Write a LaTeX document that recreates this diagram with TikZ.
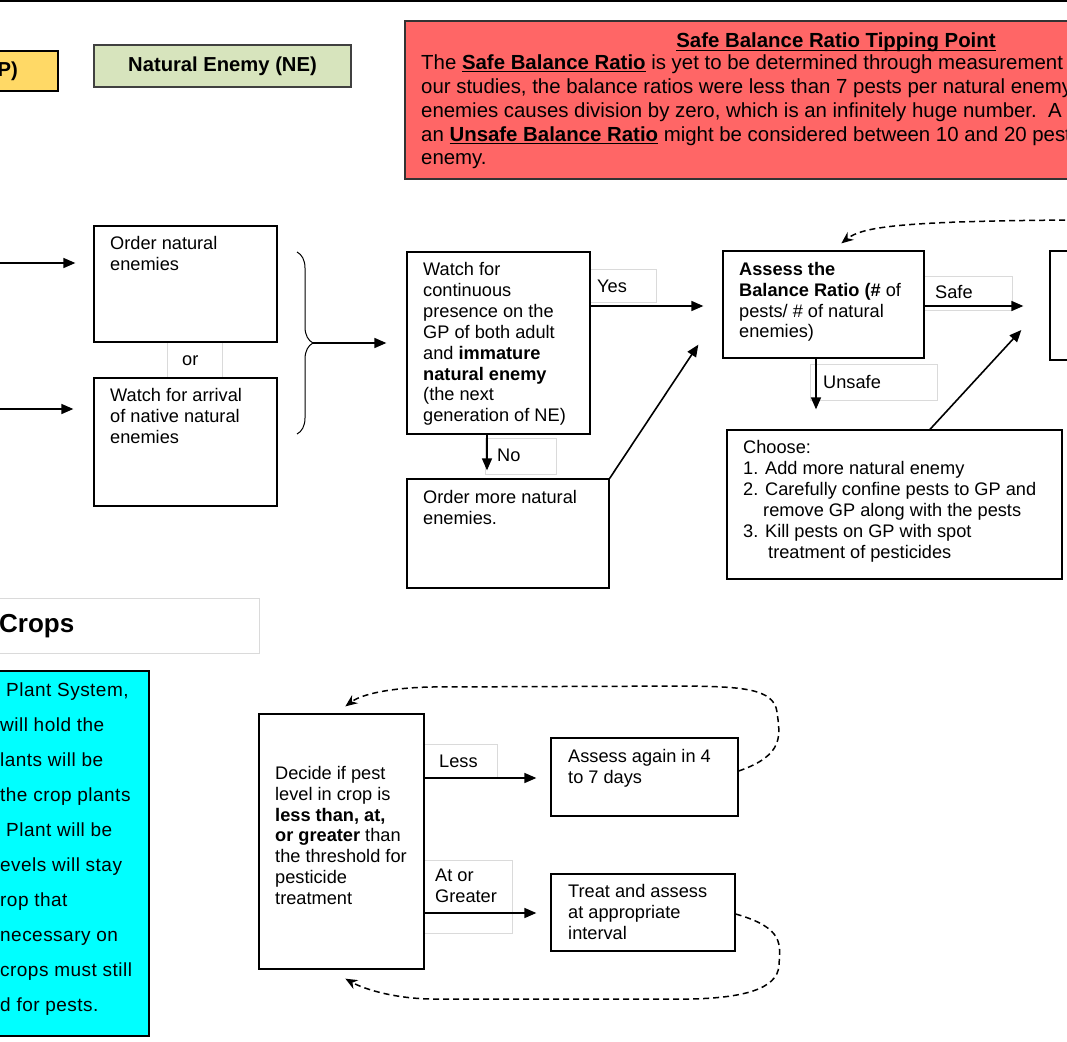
\documentclass[tikz,border=0pt]{standalone}
\usepackage{fontspec}
\setmainfont{Liberation Sans}
\newfontfamily\cyanfont{Liberation Sans}[LetterSpace=2.5]
\usetikzlibrary{arrows.meta,fit,calc,decorations.pathreplacing}
\definecolor{ylw}{RGB}{255,217,102}
\definecolor{grn}{RGB}{215,228,189}
\definecolor{redb}{RGB}{255,102,102}
\definecolor{cyanb}{RGB}{0,255,255}
\definecolor{faint}{RGB}{218,218,218}
\newcommand\ulx[1]{\setbox0\hbox{#1}\rlap{\rule[-3pt]{\wd0}{1.3pt}}\box0}
\begin{document}
\begin{tikzpicture}[x=1pt,y=-1pt,
 box/.style={draw=black, line width=1.3pt, inner sep=0pt},
 lbl/.style={draw=faint, line width=0.7pt, inner sep=0pt},
 txt/.style={anchor=north west, inner sep=0pt, align=left, font=\fontsize{18.2}{20.85}\selectfont, execute at begin node=\strut},
 ltxt/.style={anchor=base west, inner sep=0pt, font=\fontsize{18.2}{20.85}\selectfont},
 arr/.style={line width=1.6pt, -{Triangle[length=12pt,width=10pt]}},
 dsh/.style={line width=1.5pt, dash pattern=on 6pt off 4pt, -{Stealth[length=12pt,width=10pt]}},
]
\useasboundingbox (0,0) rectangle (1067,1041);
\clip (0,0) rectangle (1067,1041);
\fill[white] (0,0) rectangle (1067,1041);
\draw[line width=1.6pt] (0,1) -- (1067,1);

% header boxes
\node[box, fill=ylw, line width=1.2pt, fit={(-10,51)(58,91)}] (gp) {};
\node[anchor=east, inner sep=0pt, font=\bfseries\fontsize{20.2}{24}\selectfont] at (18,71) {P)};
\node[box, fill=grn, draw=black!75, line width=1.2pt, fit={(94,45)(351,87)}] (ne) {};
\node[inner sep=0pt, font=\bfseries\fontsize{20.2}{24}\selectfont] at (ne.center) {Natural Enemy (NE)};
\node[box, fill=redb, draw=black!80, line width=1.2pt, fit={(405,21)(1100,179)}] (tip) {};
\node[anchor=base, inner sep=0pt, font=\bfseries\fontsize{20.4}{24}\selectfont] (ttl) at (836,48) {\ulx{Safe Balance Ratio Tipping Point}};
\node[anchor=north west, inner sep=0pt, align=left, font=\fontsize{20.4}{23.85}\selectfont, execute at begin node=\strut] at (421,54.5)
 {The \textbf{\ulx{Safe Balance Ratio}} is yet to be determined through measurement\\
  our studies, the balance ratios were less than 7 pests per natural enemy\\
  enemies causes division by zero, which is an infinitely huge number.\ \ A\\
  an \textbf{\ulx{Unsafe Balance Ratio}} might be considered between 10 and 20 pests\\
  enemy.};

% label boxes
\node[lbl, fit={(167,342)(222,378)}] (orl) {};
\node[ltxt] at (182,365) {or};
\node[lbl, fit={(590,269)(656,302)}] (yesl) {};
\node[ltxt] at (597,292.5) {Yes};
\node[lbl, fit={(485,438)(556,474)}] (nol) {};
\node[ltxt] at (497,461.5) {No};
\node[lbl, fit={(924,276)(1012,310)}] (safel) {};
\node[ltxt] at (935,298.5) {Safe};
\node[lbl, fit={(810,364)(937,400)}] (unsl) {};
\node[ltxt] at (823,388.5) {Unsafe};
\node[lbl, fit={(424,744)(497,777)}] (lessl) {};
\node[ltxt] at (439,767.5) {Less};
\node[lbl, fit={(424,860)(512,933)}] (atl) {};
\node[txt] at (435,869) {At or\\Greater};
\node[lbl, fit={(-10,598)(259,653)}] (crops) {};
\node[anchor=base west, inner sep=0pt, font=\bfseries\fontsize{26}{30}\selectfont] at (-1,632) {Crops};

% main boxes
\node[box, fit={(94,226)(277,342)}] (ord) {};
\node[txt] at (110,236.5) {Order natural\\enemies};
\node[box, fit={(94,378)(277,506)}] (arrv) {};
\node[txt] at (110,388) {Watch for arrival\\of native natural\\enemies};
\node[box, fit={(407,252)(590,434)}] (watch) {};
\node[txt] at (423,262.5) {Watch for\\continuous\\presence on the\\GP of both adult\\and \textbf{immature}\\\textbf{natural enemy}\\(the next\\generation of NE)};
\node[box, fit={(407,479)(609,588)}] (more) {};
\node[txt] at (423,490) {Order more natural\\enemies.};
\node[box, fit={(723,251)(924,358)}] (assess) {};
\node[txt] at (739,262) {\textbf{Assess the}\\\textbf{Balance Ratio (\#} of\\pests/ \# of natural\\enemies)};
\node[box, fit={(727,430)(1062,579)}] (choose) {};
\node[txt] at (743,440.5) {Choose:\\1. Add more natural enemy\\2. Carefully confine pests to GP and\\\hspace*{20pt}remove GP along with the pests\\3. Kill pests on GP with spot\\\hspace*{25pt}treatment of pesticides};
\node[box, fit={(1050,251)(1100,360)}] (rbox) {};

\node[box, fill=cyanb, line width=1.2pt, fit={(-10,671)(149,1036)}] (cy) {};
\node[anchor=north west, inner sep=0pt, align=left, font=\cyanfont\fontsize{19}{35}\selectfont, execute at begin node=\strut] at (0,682.5)
 {\hspace*{6pt}Plant System,\\will hold the\\lants will be\\the crop plants\\\hspace*{6pt}Plant will be\\evels will stay\\rop that\\necessary on\\crops must still\\d for pests.};

\node[box, fit={(259,714)(424,969)}] (dec) {};
\node[txt] at (275,766) {Decide if pest\\level in crop is\\\textbf{less than, at,}\\\textbf{or greater} than\\the threshold for\\pesticide\\treatment};
\node[box, fit={(551,738)(738,816)}] (again) {};
\node[txt] at (568,749) {Assess again in 4\\to 7 days};
\node[box, fit={(551,874)(735,951)}] (treat) {};
\node[txt] at (568,884) {Treat and assess\\at appropriate\\interval};

% brace
\draw[line width=1pt, decorate, decoration={brace, amplitude=16pt}] (297,252) -- (297,434);
\coordinate (bt) at (313,343);
\draw[arr, shorten >=20pt] (bt) -- (watch.west |- bt);

% connectors
\coordinate (inA) at (0,263);
\coordinate (inB) at (0,409);
\draw[arr, shorten >=18pt] (inA) -- (ord.west |- inA);
\draw[arr, shorten >=20pt] (inB) -- (arrv.west |- inB);
\coordinate (yesY) at (0,306);
\draw[arr, shorten >=19pt] (watch.east |- yesY) -- (assess.west |- yesY);
\draw[arr, shorten >=26pt] (assess.east |- yesY) -- (rbox.west |- yesY);
\coordinate (noX) at (487,0);
\draw[arr, shorten >=8pt] (watch.south -| noX) -- (more.north -| noX);
\draw[arr] (more.north east) -- ($(assess.south west)+(-24,-14)$);
\coordinate (unX) at (816,0);
\draw[arr, shorten >=20pt] (assess.south -| unX) -- (choose.north -| unX);
\coordinate (chX) at (930,0);
\draw[arr] (choose.north -| chX) -- ($(rbox.west)+(-28,24.5)$);
\coordinate (lessY) at (0,778);
\draw[arr, shorten >=14pt] (dec.east |- lessY) -- (again.west |- lessY);
\coordinate (atY) at (0,913);
\draw[arr, shorten >=14pt] (dec.east |- atY) -- (treat.west |- atY);

% dashed loops
\coordinate (rtop) at (1075,220);
\draw[dsh] (rtop) .. controls (900,221) and (862,227) .. ($(assess.north west)+(119,-7)$);
\coordinate (aY) at (0,771);
\draw[dsh] (again.east |- aY) .. controls (785,755) and (780,735) .. (777,712) .. controls (774,688) and (740,687) .. (690,686) -- (430,687) .. controls (390,688) and (362,694) .. ($(dec.north west)+(87,-7)$);
\coordinate (tY) at (0,914);
\draw[dsh] (treat.east |- tY) .. controls (785,928) and (780,945) .. (779,965) .. controls (778,990) and (740,998) .. (690,999) -- (430,999) .. controls (390,998) and (362,988) .. ($(dec.south west)+(87,9)$);
\end{tikzpicture}
\end{document}
